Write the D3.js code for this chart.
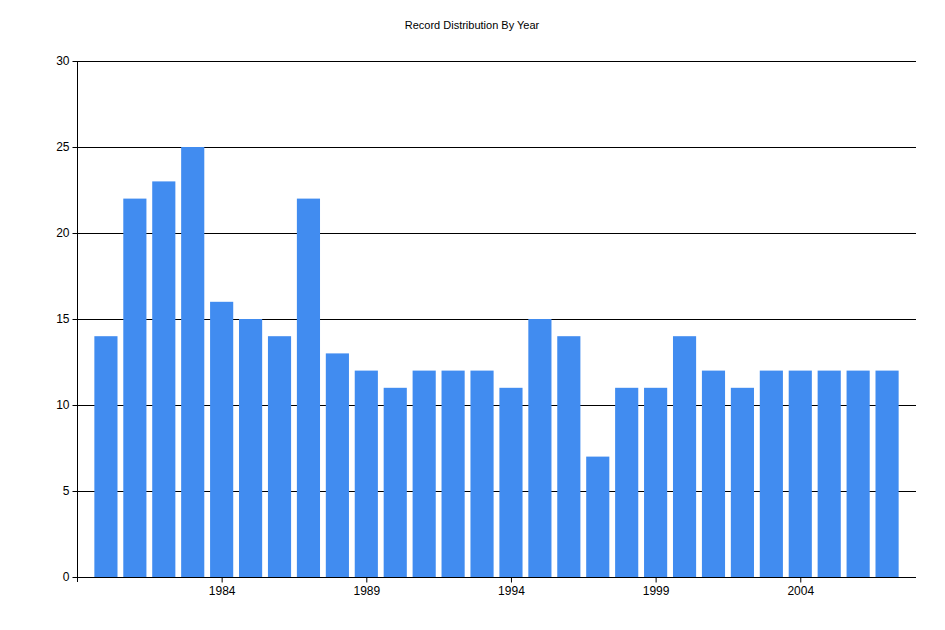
<!DOCTYPE html>
<html><head><meta charset="utf-8">
<script src="https://cdn.jsdelivr.net/npm/d3@7"></script>
<style>body{margin:0;background:#fff}text{font-family:"Liberation Sans",Arial,sans-serif}</style>
</head><body><svg id="c" width="945" height="630"></svg>
<script>
const years = d3.range(1980, 2008);
const counts = [14,22,23,25,16,15,14,22,13,12,11,12,12,12,11,15,14,7,11,11,14,12,11,12,12,12,12,12];
const yTicks = [0,5,10,15,20,25,30];
const xTicks = [1984,1989,1994,1999,2004];

const svg = d3.select("#c");
const L=77,R=916,T=61,B=577;
const x = d3.scaleLinear().domain([1979,2008]).range([L,R]);
const y = d3.scaleLinear().domain([0,30]).range([B,T]);
const bw = (x(1)-x(0))*0.8;

svg.append("text").attr("x",472).attr("y",29).attr("text-anchor","middle").attr("font-size",11).text("Record Distribution By Year");

svg.append("g").selectAll("line").data(yTicks.filter(d=>d>0)).join("line")
 .attr("x1",L).attr("x2",R).attr("y1",d=>y(d)+0.5).attr("y2",d=>y(d)+0.5).attr("stroke","#000");

svg.append("g").selectAll("rect").data(years).join("rect")
 .attr("x",(d)=>x(d)-bw/2).attr("width",bw)
 .attr("y",(d,i)=>y(counts[i])).attr("height",(d,i)=>B-y(counts[i])).attr("fill","#418CF0");

const ya = svg.append("g").attr("transform",`translate(${L+0.5},0)`).call(d3.axisLeft(y).tickValues(yTicks).tickSize(5).tickPadding(3));
const xa = svg.append("g").attr("transform",`translate(0,${B+0.5})`).call(d3.axisBottom(x).tickValues(xTicks).tickFormat(d3.format("d")).tickSize(5).tickPadding(4));
[ya,xa].forEach(a=>{a.selectAll("text").attr("font-size",12).attr("fill","#000").attr("font-family","Liberation Sans, Arial, sans-serif");a.selectAll("line,path").attr("stroke","#000");});
xa.select("path").attr("d",`M${L},0H${R}`);
ya.select("path").attr("d",`M0,${T}V${B+5}`);
</script></body></html>
